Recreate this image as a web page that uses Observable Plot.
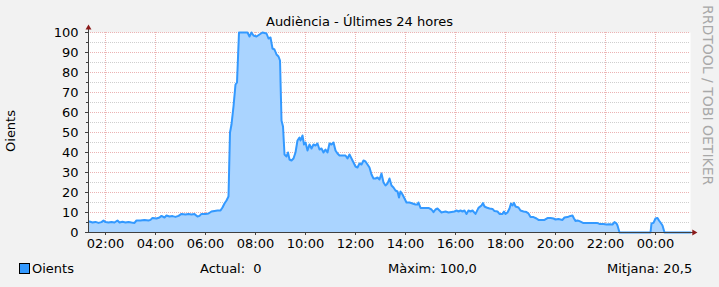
<!DOCTYPE html>
<html><head><meta charset="utf-8">
<script src="https://cdn.jsdelivr.net/npm/d3@7"></script>
<script src="https://cdn.jsdelivr.net/npm/@observablehq/plot@0.6"></script>
<style>
html,body{margin:0;padding:0;background:#f2f2f2;}
#chart{width:719px;height:287px;}
</style></head><body><div id="chart"></div>
<script>
// time in hours since 00:00 of the first day (values > 24 are next day)
const hours = [1.36,1.48,1.60,1.72,1.84,1.92,2.00,2.12,2.24,2.36,2.48,2.56,2.68,2.80,2.92,3.04,3.16,3.24,3.40,3.56,3.72,3.80,3.88,4.04,4.16,4.24,4.36,4.44,4.56,4.68,4.80,4.92,5.04,5.20,5.32,5.44,5.56,5.68,5.76,5.84,6.00,6.12,6.24,6.36,6.48,6.60,6.68,6.76,6.84,6.92,6.98,7.04,7.12,7.20,7.26,7.34,7.50,7.68,7.76,7.84,7.92,8.04,8.16,8.28,8.44,8.52,8.60,8.68,8.76,8.84,8.92,8.98,9.04,9.10,9.16,9.24,9.30,9.36,9.44,9.52,9.60,9.68,9.76,9.80,9.88,9.94,10.00,10.08,10.16,10.24,10.32,10.40,10.48,10.56,10.64,10.72,10.80,10.88,10.96,11.04,11.12,11.20,11.28,11.36,11.48,11.60,11.68,11.76,11.84,11.92,12.00,12.08,12.16,12.24,12.32,12.40,12.48,12.56,12.64,12.72,12.80,12.88,12.96,13.04,13.12,13.20,13.28,13.36,13.44,13.52,13.60,13.68,13.74,13.80,13.88,13.96,14.04,14.16,14.28,14.40,14.48,14.52,14.60,14.76,14.92,15.04,15.12,15.20,15.28,15.36,15.44,15.52,15.60,15.72,15.84,15.96,16.04,16.12,16.20,16.28,16.36,16.44,16.52,16.60,16.68,16.80,16.92,17.04,17.10,17.16,17.24,17.36,17.48,17.56,17.68,17.76,17.88,17.94,18.00,18.08,18.16,18.22,18.28,18.34,18.40,18.52,18.60,18.72,18.84,18.92,19.00,19.12,19.24,19.32,19.44,19.56,19.68,19.80,19.92,20.00,20.12,20.20,20.28,20.36,20.48,20.60,20.68,20.74,20.80,20.88,20.96,21.04,21.12,21.28,21.44,21.56,21.68,21.76,21.92,22.04,22.16,22.28,22.36,22.44,22.48,22.56,23.80,23.84,23.92,24.00,24.08,24.14,24.20,24.28,24.36,25.40];
const listeners = [5.5,5.0,5.3,4.8,5.2,6.0,5.2,5.0,5.3,5.0,6.0,5.0,5.4,5.0,5.3,5.0,4.8,6.0,6.0,6.2,6.0,6.3,7.3,7.0,7.5,8.3,7.5,8.5,8.0,8.2,7.8,8.3,9.3,9.0,9.3,9.0,9.2,8.0,8.3,9.3,9.3,9.5,10.5,10.8,11.0,11.0,12.5,14.5,16.0,18.0,50,54,63,74,75,100,100,100,98,100,98.5,98,99,100,99.5,97,97.5,92,91.5,89,88,86,56,53,39,38,40,36.5,36,37,40,46,47.5,46,48.5,44,45,41,44,42,44,43.5,44.5,41.5,42,40,41.5,40,44.5,44,45,41,39.5,38.5,38.5,38.5,37,39,37,35,33,32.5,34.5,34,36,35.5,34,32.5,29,27,27,27.5,26.5,29.5,25,23.5,24.5,27,23.5,22.5,21,20.5,17.5,20.5,19,17,15,15,14.5,14,14,15,12.3,12.3,12.3,11.5,10.2,11.5,12,11,10,10.3,10.5,10,10.3,10.5,11,10.5,11,10.5,11,9.3,11,10.5,11,9.3,12.3,13.5,14.7,13,12.5,12,11.8,10.7,10.5,9.3,9.3,10.5,9.3,10,12,14.5,13.5,14.8,13,12.5,11,10.5,10.2,9.5,7.8,7.7,7,6.3,6.3,6.3,7.2,7.2,7.0,6.5,6.7,6.5,6.3,7.5,7.7,8.3,8.5,7,5.8,6,5.7,5.2,4.7,4.7,4.8,4.7,4.7,4.3,4.3,4,4.1,4,5.2,4.5,3.5,0,0,4.5,4.8,7,7.3,6,5,3.5,0,0];
const majorY = [0,10,20,30,40,50,60,70,80,90,100];
const minorY = [5,15,25,35,45,55,65,75,85,95];
const xTicks = [2,4,6,8,10,12,14,16,18,20,22,24];
const xLabels = ["02:00","04:00","06:00","08:00","10:00","12:00","14:00","16:00","18:00","20:00","22:00","00:00"];
const titleText = "Audiència - Últimes 24 hores";
const yLabelText = "Oients";
const watermark = "RRDTOOL / TOBI OETIKER";
const legendName = "Oients";
const legendStats = ["Actual:  0", "Màxim: 100,0", "Mitjana: 20,5"];
const xDomain = [1.32, 25.40];

const data = hours.map((h, i) => ({h, v: listeners[i]}));
const axisColor = "#404040";
const arrowColor = "#8b1a1a";

const plot = Plot.plot({
  width: 719, height: 287,
  marginLeft: 88, marginRight: 29, marginTop: 32, marginBottom: 55,
  style: {background: "#f2f2f2", fontFamily: "DejaVu Sans", fontSize: "13px", color: "#000"},
  x: {type: "linear", domain: xDomain, label: null},
  y: {domain: [0, 100], label: null},
  marks: [
    Plot.frame({fill: "white", stroke: null}),
    Plot.ruleY(minorY, {stroke: "#cfcfcf", strokeDasharray: "1,1"}),
    Plot.ruleY(majorY.filter(d => d > 0), {stroke: "#ecb3b3", strokeDasharray: "1,1"}),
    Plot.ruleX(xTicks, {stroke: "#ecb3b3", strokeDasharray: "1,1"}),
    Plot.areaY(data, {x: "h", y: "v", fill: "#aad4ff"}),
    Plot.lineY(data, {x: "h", y: "v", stroke: "#3399ff", strokeWidth: 2}),
    Plot.axisY(majorY, {label: null, tickSize: 3, tickPadding: 7, fontSize: 13, stroke: axisColor, fill: "#000"}),
    Plot.axisY(minorY, {label: null, tickSize: 2, text: null, stroke: axisColor}),
    Plot.axisX(xTicks, {label: null, tickSize: 3, tickPadding: 3, fontSize: 13, stroke: axisColor, fill: "#000",
      tickFormat: d => xLabels[xTicks.indexOf(d)]}),
    Plot.ruleX([xDomain[0]], {y1: 0, y2: 102.5, stroke: axisColor}),
    Plot.ruleY([0], {x1: xDomain[0], x2: 25.6, stroke: axisColor}),
    Plot.dot([{h: xDomain[0], v: 102.3}], {x: "h", y: "v", symbol: "triangle", r: 2.2, fill: arrowColor, stroke: null}),
    Plot.dot([{h: 25.54, v: 0}], {x: "h", y: "v", symbol: "triangle", r: 2.2, rotate: 90, fill: arrowColor, stroke: null})
  ]
});

const svg = d3.select(plot);
const font = "DejaVu Sans";
function addText(x, y, s, opts = {}) {
  return svg.append("text").attr("x", x).attr("y", y)
    .attr("text-anchor", opts.anchor || "start")
    .attr("font-family", font).attr("font-size", opts.size || 13)
    .attr("fill", opts.fill || "#000")
    .attr("transform", opts.transform || null)
    .style("white-space", "pre").text(s);
}
addText(359.5, 26, titleText, {anchor: "middle"});
addText(0, 0, yLabelText, {anchor: "middle", transform: "translate(15,131) rotate(-90)"});
addText(0, 0, watermark, {anchor: "start", size: 14, fill: "#a8a8a8", transform: "translate(703,5) rotate(90)"});
svg.append("rect").attr("x", 19.5).attr("y", 263.5).attr("width", 10).attr("height", 10)
  .attr("fill", "#3399ff").attr("stroke", "#000");
addText(32, 272.5, legendName);
const statX = [200, 388, 607];
legendStats.forEach((s, i) => addText(statX[i], 272.5, s));
document.getElementById("chart").appendChild(plot);
</script></body></html>
